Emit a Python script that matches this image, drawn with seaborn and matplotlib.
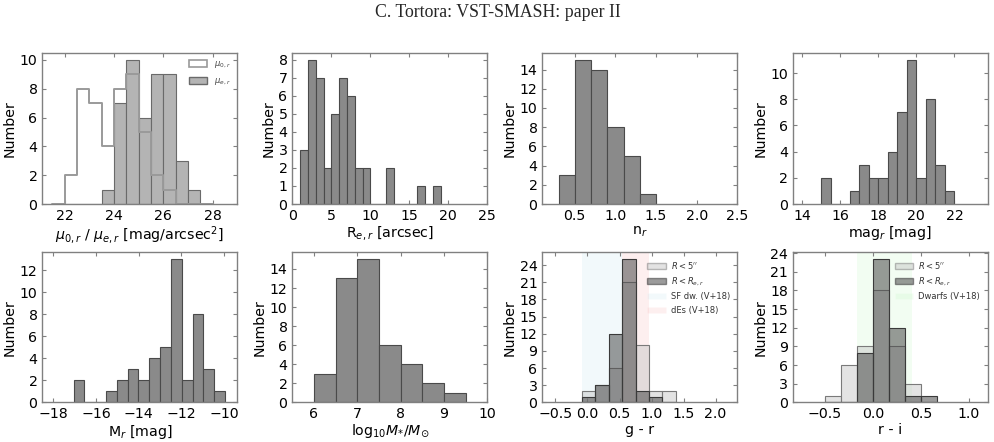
import matplotlib
matplotlib.use("Agg")
import matplotlib.pyplot as plt
import numpy as np
import seaborn as sns
from matplotlib.patches import Patch

sns.set_theme(style="ticks")
FS = 10.2
plt.rcParams.update({
    'font.family': 'DejaVu Sans',
    'mathtext.fontset': 'dejavusans',
    'xtick.direction': 'in', 'ytick.direction': 'in',
    'xtick.top': True, 'ytick.right': True,
    'xtick.major.size': 3, 'ytick.major.size': 3,
    'xtick.major.width': 0.8, 'ytick.major.width': 0.8,
    'xtick.color': '#808080', 'ytick.color': '#808080',
    'xtick.labelcolor': 'black', 'ytick.labelcolor': 'black',
    'axes.edgecolor': '#808080', 'axes.linewidth': 1.0,
    'xtick.labelsize': FS, 'ytick.labelsize': FS,
    'axes.labelsize': FS, 'axes.labelcolor': 'black',
})

# ---- data (bin edges + counts) ----
mu_edges = [21.5, 22.0, 22.5, 23.0, 23.5, 24.0, 24.5, 25.0, 25.5, 26.0, 26.5, 27.0, 27.5, 28.0]
mu0_counts = [0, 2, 8, 7, 4, 8, 9, 5, 2, 1, 0, 0, 0]
mue_counts = [0, 0, 0, 0, 1, 7, 10, 6, 9, 9, 3, 1, 0]

re_edges = list(range(1, 20))
re_counts = [3, 8, 7, 2, 5, 7, 6, 2, 2, 0, 0, 2, 0, 0, 0, 1, 0, 1]

n_edges = [0.3, 0.5, 0.7, 0.9, 1.1, 1.3, 1.5]
n_counts = [3, 15, 14, 8, 5, 1]

mag_edges = [15.0, 15.5, 16.0, 16.5, 17.0, 17.5, 18.0, 18.5, 19.0, 19.5, 20.0, 20.5, 21.0, 21.5, 22.0]
mag_counts = [2, 0, 0, 1, 3, 2, 2, 4, 7, 11, 2, 8, 3, 1]

Mr_edges = [-17.05, -16.54, -16.04, -15.53, -15.02, -14.51, -14.01, -13.50,
            -12.99, -12.49, -11.98, -11.47, -10.96, -10.46, -9.95]
Mr_counts = [2, 0, 0, 1, 2, 3, 2, 4, 5, 13, 2, 8, 3, 1]

logm_edges = [6.0, 6.5, 7.0, 7.5, 8.0, 8.5, 9.0, 9.5]
logm_counts = [3, 13, 15, 6, 4, 2, 1]

gr_edges = [-0.086, 0.123, 0.332, 0.541, 0.750, 0.959, 1.168, 1.377]
gr_5arc = [2, 3, 6, 21, 10, 2, 2]
gr_re = [1, 3, 12, 25, 2, 1, 0]
gr_sf = (-0.086, 0.541)
gr_des = (0.541, 0.959)

ri_edges = [-0.5, -0.333, -0.167, 0.0, 0.167, 0.333, 0.5, 0.667]
ri_5arc = [1, 6, 9, 18, 9, 3, 0]
ri_re = [0, 0, 8, 23, 12, 1, 1]
ri_dw = (-0.167, 0.41)

BAR = dict(color='#8a8a8a', edgecolor='#4a4a4a', linewidth=0.8, alpha=1.0)
LIGHT = dict(color='#c8c8c8', edgecolor='#7a7a7a', linewidth=0.8, alpha=0.5)
DARK = dict(color='#4a4a4a', edgecolor='#3a3a3a', linewidth=0.8, alpha=0.55)
LEG = dict(loc='upper right', frameon=False, fontsize=6, handlelength=2.2, handletextpad=0.6,
           labelspacing=0.55, borderaxespad=0.5, labelcolor='#333333')


def hist(ax, edges, counts, **kw):
    e = np.asarray(edges, dtype=float)
    centers = 0.5 * (e[:-1] + e[1:])
    # bins as a plain list, seaborn compares it with "auto"
    sns.histplot(x=centers, weights=counts, bins=list(edges), ax=ax, **kw)


def finish(ax, xlabel, xlim, xticks, ymax, yticks):
    ax.set_xlim(xlim)
    ax.set_ylim(0, ymax * 1.05)
    ax.set_xticks(xticks)
    ax.set_yticks(yticks)
    ax.set_xlabel(xlabel, labelpad=1)
    ax.set_ylabel('Number', labelpad=2)


fig = plt.figure(figsize=(9.95, 4.42), dpi=100)
W, H = 995., 442.
lefts = [42.3, 292.3, 542.3, 792.7]
rows = [(52.7, 151.3), (252.3, 150.0)]
axs = [[fig.add_axes([l / W, 1 - (t + h) / H, 195 / W, h / H]) for l in lefts] for t, h in rows]

fig.text(0.5, 0.971, 'C. Tortora: VST-SMASH: paper II', ha='center', va='center',
         family='Liberation Serif', fontsize=12.8)

# surface brightness
ax = axs[0][0]
hist(ax, mu_edges, mue_counts, color='#b4b4b4', edgecolor='#6a6a6a', linewidth=0.8, alpha=1.0)
hist(ax, mu_edges, mu0_counts, element='step', fill=False, color='#9a9a9a', linewidth=1.4)
finish(ax, r'$\mu_{0,r}$ / $\mu_{e,r}$ [mag/arcsec$^2$]', (21.1, 29.0), [22, 24, 26, 28], 10, range(0, 11, 2))
ax.legend(handles=[Patch(facecolor='white', edgecolor='#9a9a9a', linewidth=1.2),
                   Patch(facecolor='#b4b4b4', edgecolor='#6a6a6a')],
          labels=[r'$\mu_{0,r}$', r'$\mu_{e,r}$'], loc='upper right', frameon=False,
          fontsize=6, handlelength=2.2, handleheight=1.0, labelspacing=0.7, borderaxespad=0.4,
          labelcolor='#444444')

ax = axs[0][1]
hist(ax, re_edges, re_counts, **BAR)
finish(ax, r'R$_{e,r}$ [arcsec]', (0, 25), range(0, 26, 5), 8, range(0, 9))

ax = axs[0][2]
hist(ax, n_edges, n_counts, **BAR)
finish(ax, r'n$_r$', (0.1, 2.5), [0.5, 1.0, 1.5, 2.0, 2.5], 15, range(0, 15, 2))

ax = axs[0][3]
hist(ax, mag_edges, mag_counts, **BAR)
finish(ax, r'mag$_r$ [mag]', (13.5, 23.75), range(14, 23, 2), 11, range(0, 11, 2))

ax = axs[1][0]
hist(ax, Mr_edges, Mr_counts, **BAR)
finish(ax, r'M$_r$ [mag]', (-18.52, -9.37), range(-18, -9, 2), 13, range(0, 13, 2))

ax = axs[1][1]
hist(ax, logm_edges, logm_counts, **BAR)
finish(ax, r'log$_{10}M_{*}/M_{\odot}$', (5.5, 10.0), range(6, 11), 15, range(0, 15, 2))

# colours
ax = axs[1][2]
ax.axvspan(*gr_sf, color='#add8e6', alpha=0.15, lw=0, zorder=0)
ax.axvspan(*gr_des, color='#f08080', alpha=0.12, lw=0, zorder=0)
hist(ax, gr_edges, gr_5arc, **LIGHT)
hist(ax, gr_edges, gr_re, **DARK)
finish(ax, 'g - r', (-0.706, 2.34), [-0.5, 0.0, 0.5, 1.0, 1.5, 2.0], 25, range(0, 25, 3))
ax.legend(handles=[Patch(facecolor='#c8c8c8', edgecolor='#7a7a7a', alpha=0.5),
                   Patch(facecolor='#4a4a4a', edgecolor='#3a3a3a', alpha=0.55),
                   Patch(facecolor='#add8e6', alpha=0.15),
                   Patch(facecolor='#f08080', alpha=0.12)],
          labels=[r'$R<5^{\prime\prime}$', r'$R<R_{e,r}$', 'SF dw. (V+18)', 'dEs (V+18)'], **LEG)

ax = axs[1][3]
ax.axvspan(*ri_dw, color='#90ee90', alpha=0.11, lw=0, zorder=0)
hist(ax, ri_edges, ri_5arc, **LIGHT)
hist(ax, ri_edges, ri_re, **DARK)
finish(ax, 'r - i', (-0.836, 1.195), [-0.5, 0.0, 0.5, 1.0], 23, range(0, 25, 3))
ax.legend(handles=[Patch(facecolor='#c8c8c8', edgecolor='#7a7a7a', alpha=0.5),
                   Patch(facecolor='#4a4a4a', edgecolor='#3a3a3a', alpha=0.55),
                   Patch(facecolor='#90ee90', alpha=0.11)],
          labels=[r'$R<5^{\prime\prime}$', r'$R<R_{e,r}$', 'Dwarfs (V+18)'], **LEG)

fig.savefig('out.png', dpi=100)
